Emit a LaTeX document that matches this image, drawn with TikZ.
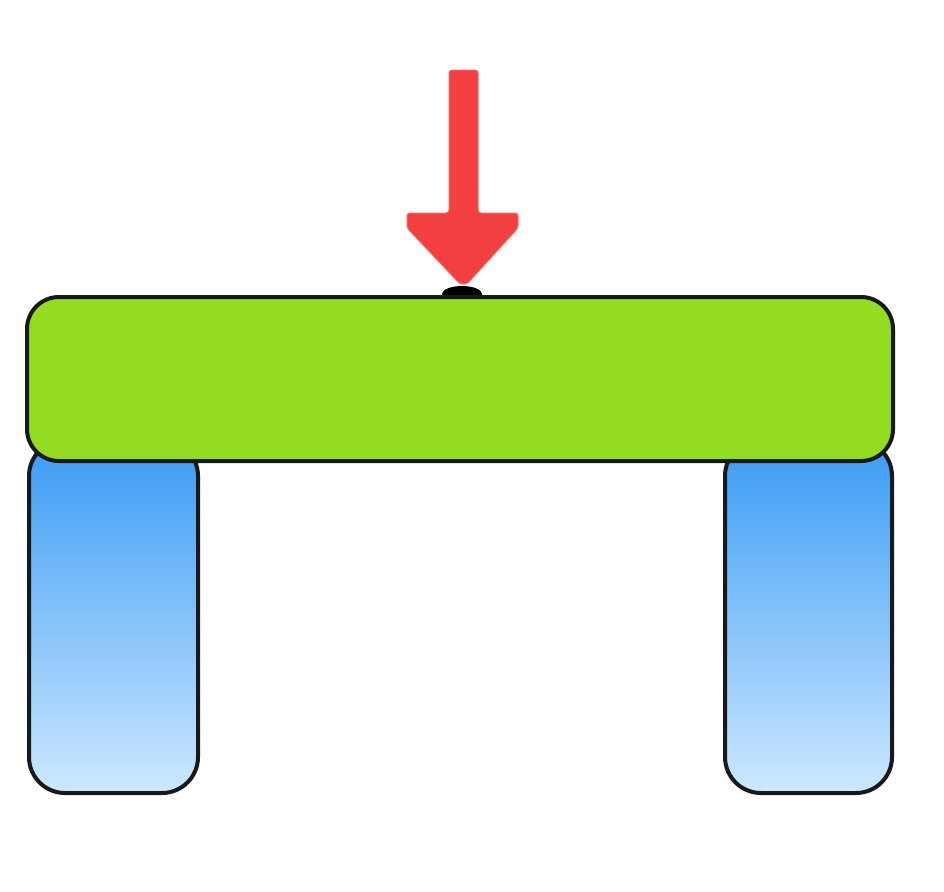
\documentclass[tikz,border=0pt]{standalone}
\begin{document}
\begin{tikzpicture}[x=1pt,y=-1pt,
  outline/.style={draw=black!90, line width=4pt},
  legbox/.style={outline, rounded corners=36pt, top color=legtop, middle color=legmid, bottom color=legbot},
  beambox/.style={outline, fill=beamgreen, rounded corners=32pt},
  loadarrow/.style={fill=arrowred, draw=arrowred!80, line width=1pt, rounded corners=3pt}]
\definecolor{beamgreen}{RGB}{148,220,34}
\definecolor{legtop}{RGB}{58,155,244}
\definecolor{legmid}{RGB}{110,185,250}
\definecolor{legbot}{RGB}{205,232,255}
\definecolor{arrowred}{RGB}{242,64,64}
\useasboundingbox (0,0) rectangle (944,891);
% legs
\path[legbox] (29,440) rectangle (198,793);
\path[legbox] (725,440) rectangle (892,793);
% contact bump
\fill[black] (462,294) ellipse [x radius=20, y radius=8];
% beam
\path[beambox] (27,297) rectangle (893,461);
% load arrow
\path[loadarrow] (449,70) -- (478,70) -- (478,213) -- (518,213) -- (518,228) -- (467,284) -- (460,284) -- (407,228) -- (407,213) -- (449,213) -- cycle;
\end{tikzpicture}
\end{document}
